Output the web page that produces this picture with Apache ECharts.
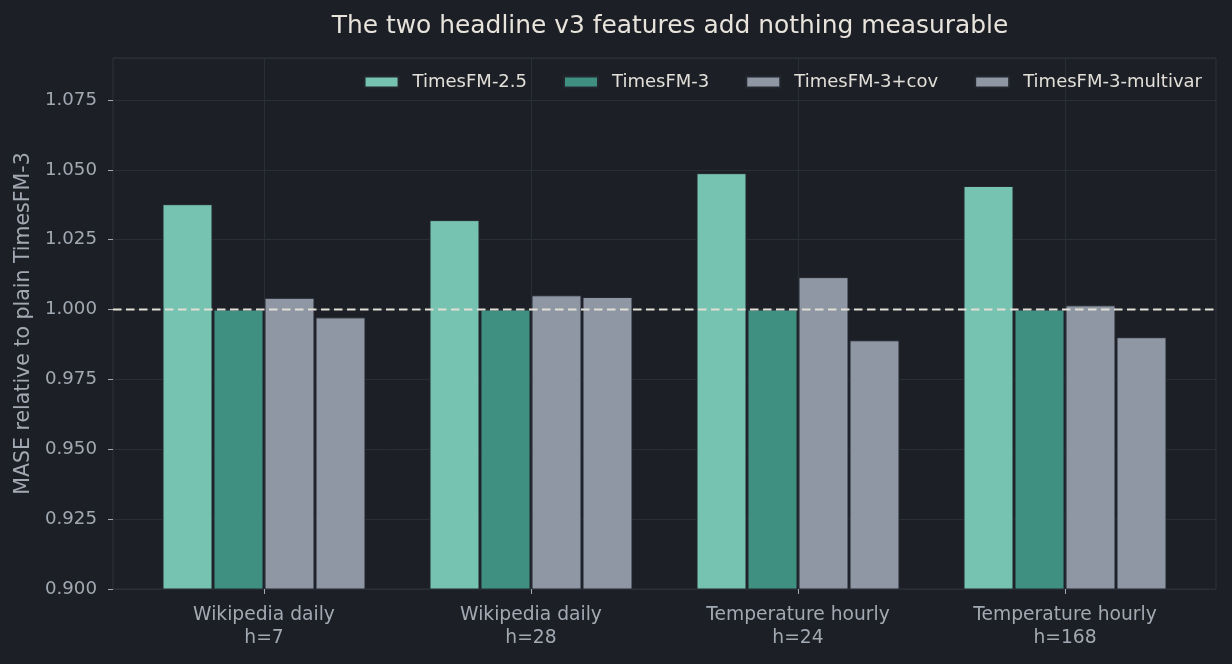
<!DOCTYPE html>
<html>
<head>
<meta charset="utf-8">
<script src="https://cdn.jsdelivr.net/npm/echarts@6/dist/echarts.min.js"></script>
<style>
  html, body { margin: 0; padding: 0; background: #1c1f26; }
  #main { width: 1232px; height: 664px; }
</style>
</head>
<body>
<div id="main"></div>
<script>
// data
var categories = ['Wikipedia daily\nh=7', 'Wikipedia daily\nh=28', 'Temperature hourly\nh=24', 'Temperature hourly\nh=168']
var seriesNames = ['TimesFM-2.5', 'TimesFM-3', 'TimesFM-3+cov', 'TimesFM-3-multivar']
var tfm25 = [1.0377, 1.032, 1.0488, 1.0442]
var tfm3 = [1.000, 1.000, 1.000, 1.000]
var tfm3cov = [1.0042, 1.0051, 1.0116, 1.0015]
var tfm3multivar = [0.9972, 1.0045, 0.989, 0.9901]
var baseline = 1.0
var yMin = 0.9
var yMax = 1.09
var yStep = 0.025

var colors = ['#76c3b1', '#3f9080', '#8e97a3', '#8e97a3']
var allValues = [tfm25, tfm3, tfm3cov, tfm3multivar]
var font = 'DejaVu Sans'
var labelColor = '#a3a9b3'
var gridColor = '#2a2e37'

var chart = echarts.init(document.getElementById('main'))

// bars live on the inner grid (gives matplotlib-like x margins),
// frame + y ticks + reference line live on the outer grid
var series = seriesNames.map(function (name, i) {
    return {
        name: name,
        type: 'bar',
        xAxisIndex: 1,
        yAxisIndex: 1,
        data: allValues[i],
        barWidth: 50,
        barGap: '2%',
        itemStyle: {
            color: colors[i],
            borderColor: '#23272f',
            borderWidth: 1
        }
    }
})
series.push({
    name: 'baseline',
    type: 'line',
    xAxisIndex: 0,
    yAxisIndex: 0,
    data: [[0, baseline], [1, baseline]],
    symbol: 'none',
    silent: true,
    z: 10,
    lineStyle: { color: '#e2dfd6', type: [8.5, 4.5], width: 2 }
})

chart.setOption({
    backgroundColor: '#1c1f26',
    animation: false,
    textStyle: { fontFamily: font },
    title: {
        text: 'The two headline v3 features add nothing measurable',
        left: 665,
        top: 9,
        textAlign: 'center',
        textStyle: { color: '#e8e4dc', fontSize: 24.9, fontWeight: 'normal', fontFamily: font }
    },
    legend: {
        top: 73,
        right: 30,
        padding: 0,
        itemWidth: 34,
        itemHeight: 11,
        itemGap: 36,
        icon: 'rect',
        textStyle: { color: '#e2dfd8', fontSize: 18, lineHeight: 18, padding: [0, 0, 0, 9], fontFamily: font },
        data: seriesNames
    },
    grid: [{
        left: 113,
        right: 16,
        top: 58,
        bottom: 75,
        show: true,
        borderColor: '#2e323c',
        borderWidth: 1,
        backgroundColor: 'transparent'
    }, {
        left: 130.5,
        right: 33.5,
        top: 58,
        bottom: 75
    }],
    xAxis: [{
        type: 'value',
        gridIndex: 0,
        min: 0,
        max: 1,
        show: false
    }, {
        type: 'category',
        gridIndex: 1,
        data: categories,
        axisLine: { show: false },
        axisTick: { show: true, alignWithLabel: true, length: 5, lineStyle: { color: labelColor } },
        axisLabel: { color: labelColor, fontSize: 18.7, lineHeight: 23, margin: 15, fontFamily: font },
        splitLine: { show: true, alignWithLabel: true, lineStyle: { color: gridColor, width: 1 } }
    }],
    yAxis: [{
        type: 'value',
        gridIndex: 0,
        min: yMin,
        max: yMax,
        interval: yStep,
        name: 'MASE relative to plain TimesFM-3',
        nameLocation: 'middle',
        nameGap: 76,
        nameTextStyle: { color: labelColor, fontSize: 20.5, fontFamily: font },
        axisLine: { show: false },
        axisTick: { show: true, length: 5, lineStyle: { color: labelColor } },
        axisLabel: {
            color: labelColor, fontSize: 18.2, margin: 16, showMaxLabel: false,
            fontFamily: font,
            formatter: function (v) { return v.toFixed(3) }
        },
        splitLine: { show: true, lineStyle: { color: gridColor, width: 1 } }
    }, {
        type: 'value',
        gridIndex: 1,
        min: yMin,
        max: yMax,
        interval: yStep,
        show: false,
        splitLine: { show: false }
    }],
    series: series
})
</script>
</body>
</html>
